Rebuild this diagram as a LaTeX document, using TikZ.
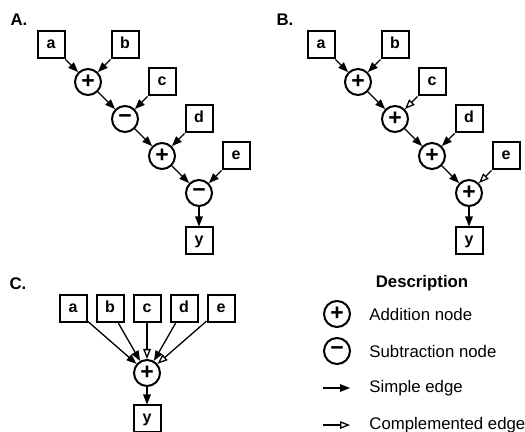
\documentclass[tikz,border=0pt]{standalone}
\usepackage{fontspec}
\setmainfont{Liberation Sans}
\usetikzlibrary{arrows.meta,positioning}
\tikzset{
  var/.style={rectangle, draw, line width=1pt, minimum size=13.5pt, inner sep=0pt,
              text height=4pt, text depth=0pt,
              font=\fontsize{8}{8}\selectfont\bfseries},
  opn/.style={circle, draw, line width=1pt, minimum size=13pt, inner sep=0pt,
              font=\fontsize{11.5}{11.5}\selectfont\bfseries},
  fl/.style={-{Triangle[length=5pt,width=3.8pt]}, line width=0.65pt},
  cfl/.style={-{Triangle[open,length=5pt,width=3.8pt]}, line width=0.65pt},
  pnl/.style={font=\fontsize{8.4}{10}\selectfont\bfseries, inner sep=0pt},
  lgd/.style={font=\fontsize{8.4}{10}\selectfont, anchor=west, inner sep=0pt},
}

\begin{document}
\begin{tikzpicture}[x=0.5pt, y=-0.5pt]
\useasboundingbox (0,0) rectangle (525,432);
% panel A
\node[pnl] (labA) at (19,20) {A.};
\node[var] (aA) at (51,45) {a};
\node[var] (bA) at (125,45) {b};
\node[opn] (s1A) at (88,82) {+};
\node[var] (cA) at (162,82) {c};
\node[opn] (s2A) at (125,119) {−};
\node[var] (dA) at (199,119) {d};
\node[opn] (s3A) at (162,156) {+};
\node[var] (eA) at (236,156) {e};
\node[opn] (s4A) at (199,193) {−};
\node[var] (yA) at (199,241) {y};
\draw[fl] (aA) -- (s1A);
\draw[fl] (bA) -- (s1A);
\draw[fl] (s1A) -- (s2A);
\draw[fl] (cA) -- (s2A);
\draw[fl] (s2A) -- (s3A);
\draw[fl] (dA) -- (s3A);
\draw[fl] (s3A) -- (s4A);
\draw[fl] (eA) -- (s4A);
\draw[fl] (s4A) -- (yA);
% panel B
\node[pnl] (labB) at (285,20) {B.};
\node[var] (aB) at (321,45) {a};
\node[var] (bB) at (395,45) {b};
\node[opn] (s1B) at (358,82) {+};
\node[var] (cB) at (432,82) {c};
\node[opn] (s2B) at (395,119) {+};
\node[var] (dB) at (469,119) {d};
\node[opn] (s3B) at (432,156) {+};
\node[var] (eB) at (506,156) {e};
\node[opn] (s4B) at (469,193) {+};
\node[var] (yB) at (469,241) {y};
\draw[fl] (aB) -- (s1B);
\draw[fl] (bB) -- (s1B);
\draw[fl] (s1B) -- (s2B);
\draw[cfl] (cB) -- (s2B);
\draw[fl] (s2B) -- (s3B);
\draw[fl] (dB) -- (s3B);
\draw[fl] (s3B) -- (s4B);
\draw[cfl] (eB) -- (s4B);
\draw[fl] (s4B) -- (yB);
% panel C
\node[pnl] (labC) at (18,284) {C.};
\node[var] (aC) at (73,308.5) {a};
\node[var] (bC) at (110,308.5) {b};
\node[var] (cC) at (147,308.5) {c};
\node[var] (dC) at (184,308.5) {d};
\node[var] (eC) at (221,308.5) {e};
\node[opn] (sC) at (147,373) {+};
\node[var] (yC) at (147,419) {y};
\draw[fl] (aC) -- (sC);
\draw[fl] (bC) -- (sC);
\draw[cfl] (cC) -- (sC);
\draw[fl] (dC) -- (sC);
\draw[cfl] (eC) -- (sC);
\draw[fl] (sC) -- (yC);
% legend
\node[pnl] (desc) at (422,283) {Description};
\node[opn] (lgAdd) at (337,314) {+};
\node[lgd] (txAdd) at (369,314) {Addition node};
\node[opn] (lgSub) at (337,351) {−};
\node[lgd] (txSub) at (369,351) {Subtraction node};
\coordinate (s0) at (323,388);
\coordinate (s1) at (350,388);
\node[lgd] (txSim) at (369,388) {Simple edge};
\coordinate (c0) at (323,425);
\coordinate (c1) at (350,425);
\node[lgd] (txCmp) at (369,425) {Complemented edge};
\draw[fl] (s0) -- (s1);
\draw[cfl] (c0) -- (c1);
\end{tikzpicture}
\end{document}
